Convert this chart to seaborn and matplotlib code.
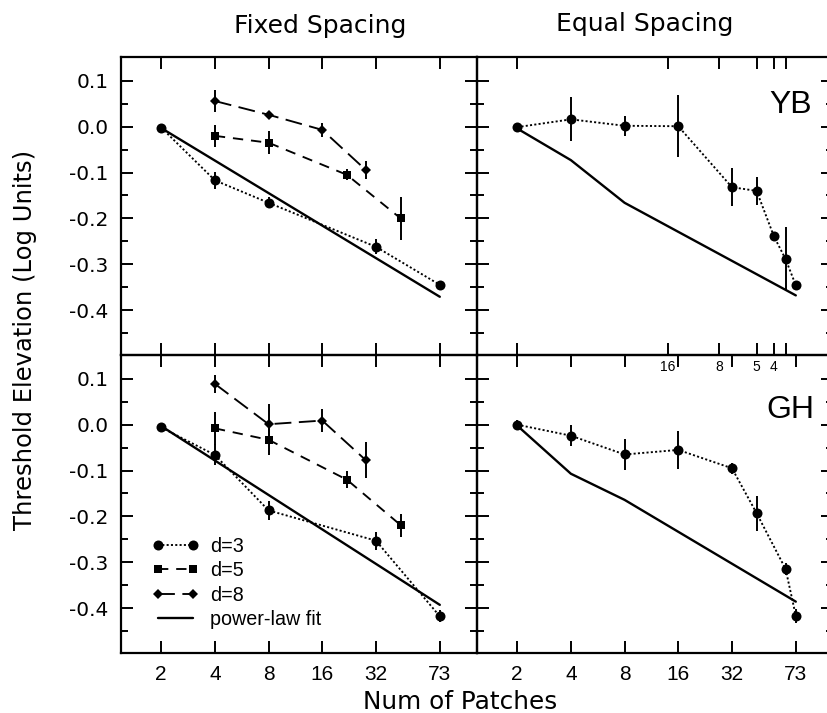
import matplotlib
matplotlib.use("Agg")
import matplotlib.pyplot as plt
import numpy as np
import pandas as pd
import seaborn as sns
from matplotlib.ticker import FixedLocator, FixedFormatter, NullLocator

# ---------------- data ----------------
x_ticks = [2, 4, 8, 16, 32, 73]
x_tick_labels = ["2", "4", "8", "16", "32", "73"]
spacing_ticks = [2, 14, 27, 44, 55, 64]
spacing_labels = ["", "16", "8", "5", "4", ""]
y_ticks = [0.1, 0.0, -0.1, -0.2, -0.3, -0.4]
y_tick_labels = ["0.1", "0.0", "-0.1", "-0.2", "-0.3", "-0.4"]
y_minor_ticks = [0.05, -0.05, -0.15, -0.25, -0.35, -0.45]

# YB, fixed spacing
yb_fix_d3_x = [2, 4, 8, 32, 73]
yb_fix_d3_y = [-0.002, -0.117, -0.166, -0.262, -0.345]
yb_fix_d3_e = [0.005, 0.019, 0.012, 0.016, 0.008]
yb_fix_d5_x = [4, 8, 22, 44]
yb_fix_d5_y = [-0.020, -0.035, -0.105, -0.200]
yb_fix_d5_e = [0.024, 0.025, 0.012, 0.047]
yb_fix_d8_x = [4, 8, 16, 28]
yb_fix_d8_y = [0.056, 0.026, -0.007, -0.094]
yb_fix_d8_e = [0.024, 0.007, 0.015, 0.020]
yb_fix_fit_x = [2, 73]
yb_fix_fit_y = [-0.003, -0.371]

# YB, equal spacing
yb_eq_x = [2, 4, 8, 16, 32, 44, 55, 64, 73]
yb_eq_y = [-0.001, 0.016, 0.002, 0.001, -0.132, -0.140, -0.239, -0.289, -0.346]
yb_eq_e = [0.005, 0.048, 0.022, 0.068, 0.041, 0.030, 0.006, 0.070, 0.010]
yb_eq_fit_x = [2, 4, 8, 73]
yb_eq_fit_y = [-0.004, -0.073, -0.166, -0.368]

# GH, fixed spacing
gh_fix_d3_x = [2, 4, 8, 32, 73]
gh_fix_d3_y = [-0.006, -0.066, -0.187, -0.253, -0.418]
gh_fix_d3_e = [0.008, 0.023, 0.020, 0.020, 0.013]
gh_fix_d5_x = [4, 8, 22, 44]
gh_fix_d5_y = [-0.008, -0.033, -0.120, -0.219]
gh_fix_d5_e = [0.036, 0.033, 0.018, 0.025]
gh_fix_d8_x = [4, 8, 16, 28]
gh_fix_d8_y = [0.089, 0.001, 0.009, -0.077]
gh_fix_d8_e = [0.020, 0.044, 0.025, 0.040]
gh_fix_fit_x = [2, 73]
gh_fix_fit_y = [-0.003, -0.393]

# GH, equal spacing
gh_eq_x = [2, 4, 8, 16, 32, 44, 64, 73]
gh_eq_y = [0.000, -0.024, -0.065, -0.055, -0.095, -0.193, -0.315, -0.417]
gh_eq_e = [0.010, 0.023, 0.033, 0.041, 0.012, 0.038, 0.013, 0.015]
gh_eq_fit_x = [2, 4, 8, 73]
gh_eq_fit_y = [-0.002, -0.107, -0.164, -0.386]

legend_labels = ["d=3", "d=5", "d=8", "power-law fit"]

# ---------------- style ----------------
sns.set_style("ticks")
plt.rcParams["font.family"] = ["Liberation Sans", "DejaVu Sans"]
plt.rcParams["axes.unicode_minus"] = False
for k in ["text.color", "axes.labelcolor", "xtick.color", "ytick.color",
          "axes.edgecolor"]:
    plt.rcParams[k] = "black"

WIDE = ["DejaVu Sans"]

fig = plt.figure(figsize=(8.27, 7.13), dpi=100)
W, H = 827.0, 713.0
L, M, R = 121 / W, 477 / W, 833 / W
T, MID, B = 1 - 57 / H, 1 - 355 / H, 1 - 653 / H

ax_bl = fig.add_axes([L, B, M - L, MID - B])
ax_br = fig.add_axes([M, B, R - M, MID - B])
ax_tl = fig.add_axes([L, MID, M - L, T - MID])
ax_tr = fig.add_axes([M, MID, R - M, T - MID])
axes = [ax_tl, ax_tr, ax_bl, ax_br]

XLIM = (1.19, 118)
YLIM = (-0.498, 0.152)

STY = {
    "d3": dict(marker="o", markersize=7.2, linestyle=(0, (1.1, 1.2)), linewidth=1.35),
    "d5": dict(marker="s", markersize=6.0, linestyle=(0, (5.5, 4.2)), linewidth=1.35),
    "d8": dict(marker="D", markersize=5.0, linestyle=(0, (9, 4)), linewidth=1.35),
    "fit": dict(marker=None, linestyle="-", linewidth=1.7),
}


def draw(ax, x, y, key, err=None, label=None):
    df = pd.DataFrame({"x": x, "y": y})
    n0 = len(ax.lines)
    sns.lineplot(data=df, x="x", y="y", ax=ax, color="black", sort=False,
                 estimator=None, legend=False, markeredgewidth=0,
                 **STY[key])
    line = ax.lines[n0]
    if label is not None:
        line.set_label(label)
    if err is not None:
        ax.errorbar(x, y, yerr=err, fmt="none", ecolor="black",
                    elinewidth=1.4, capsize=0)
    return line


for ax in axes:
    ax.set_xscale("log", base=2)
    ax.set_facecolor("none")

# top-left: YB fixed
draw(ax_tl, yb_fix_fit_x, yb_fix_fit_y, "fit")
draw(ax_tl, yb_fix_d3_x, yb_fix_d3_y, "d3", yb_fix_d3_e)
draw(ax_tl, yb_fix_d5_x, yb_fix_d5_y, "d5", yb_fix_d5_e)
draw(ax_tl, yb_fix_d8_x, yb_fix_d8_y, "d8", yb_fix_d8_e)

# top-right: YB equal
draw(ax_tr, yb_eq_fit_x, yb_eq_fit_y, "fit")
draw(ax_tr, yb_eq_x, yb_eq_y, "d3", yb_eq_e)

# bottom-left: GH fixed
h_fit = draw(ax_bl, gh_fix_fit_x, gh_fix_fit_y, "fit", label=legend_labels[3])
h3 = draw(ax_bl, gh_fix_d3_x, gh_fix_d3_y, "d3", gh_fix_d3_e, label=legend_labels[0])
h5 = draw(ax_bl, gh_fix_d5_x, gh_fix_d5_y, "d5", gh_fix_d5_e, label=legend_labels[1])
h8 = draw(ax_bl, gh_fix_d8_x, gh_fix_d8_y, "d8", gh_fix_d8_e, label=legend_labels[2])

# bottom-right: GH equal
draw(ax_br, gh_eq_fit_x, gh_eq_fit_y, "fit")
draw(ax_br, gh_eq_x, gh_eq_y, "d3", gh_eq_e)

for ax in axes:
    ax.set_xlim(*XLIM)
    ax.set_ylim(*YLIM)
    ax.set_xlabel("")
    ax.set_ylabel("")
    ax.yaxis.set_minor_locator(FixedLocator(y_minor_ticks))
    ax.xaxis.set_minor_locator(NullLocator())
    for s in ax.spines.values():
        s.set_visible(True)
        s.set_linewidth(1.6)
        s.set_color("black")
    ax.tick_params(axis="both", which="both", direction="in", top=True,
                   bottom=True, left=True, right=True, color="black",
                   width=1.4)
    ax.tick_params(axis="both", which="major", length=8.5)
    ax.tick_params(axis="y", which="minor", length=5)

# x ticks
for ax in [ax_tl, ax_bl, ax_br]:
    ax.set_xticks(x_ticks, labels=x_tick_labels, fontsize=15)
ax_tr.set_xticks(spacing_ticks, labels=spacing_labels, fontsize=10)

# y ticks
for ax in [ax_tl, ax_bl]:
    ax.set_yticks(y_ticks, labels=y_tick_labels, fontsize=14.5, family=WIDE)
    ax.tick_params(axis="y", labelleft=True, pad=9)
for ax in [ax_tr, ax_br]:
    ax.set_yticks(y_ticks)
    ax.tick_params(axis="y", labelleft=False)
for ax in [ax_bl, ax_br]:
    ax.tick_params(axis="x", labelbottom=True, pad=9)
ax_tl.tick_params(axis="x", labelbottom=False)
ax_tr.tick_params(axis="x", labelbottom=True, pad=3.5)
ax_tr.set_zorder(5)

# panel tags
ax_tr.text(0.941, 0.812, "YB", transform=ax_tr.transAxes, ha="right",
           va="baseline", fontsize=23)
ax_br.text(0.949, 0.789, "GH", transform=ax_br.transAxes, ha="right",
           va="baseline", fontsize=23)

# column titles and axis labels
fig.text(320 / W, 1 - 33 / H, "Fixed Spacing", ha="center", va="baseline",
         fontsize=18, family=WIDE)
fig.text(645 / W, 1 - 31.5 / H, "Equal Spacing", ha="center", va="baseline",
         fontsize=18, family=WIDE)
fig.text(25 / W, 1 - 340 / H, "Threshold Elevation (Log Units)",
         rotation=90, ha="center", va="center", fontsize=17.5, family=WIDE)
fig.text(460 / W, 1 - 709 / H, "Num of Patches", ha="center", va="baseline",
         fontsize=17.8, family=WIDE)

# legend
ax_bl.legend(handles=[h3, h5, h8, h_fit], labels=legend_labels,
             loc="upper left", bbox_to_anchor=(0.086, 0.39), frameon=False,
             prop={"size": 14.2}, numpoints=2, handlelength=2.4,
             handletextpad=0.55, labelspacing=0.28, borderaxespad=0,
             borderpad=0)

fig.savefig("out.png", dpi=100)
